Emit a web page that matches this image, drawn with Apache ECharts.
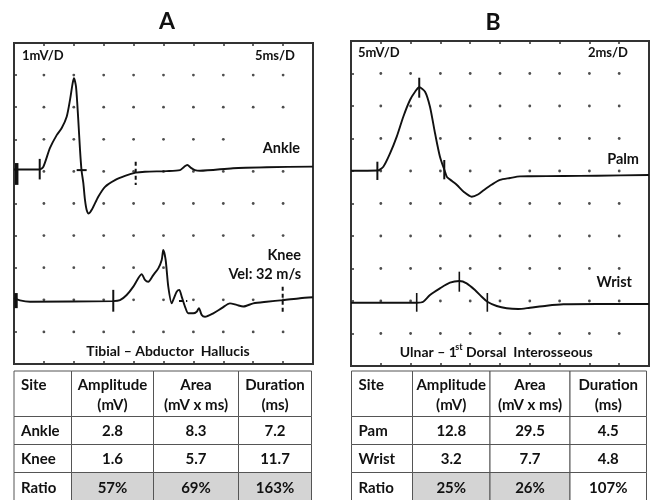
<!DOCTYPE html>
<html><head><meta charset="utf-8">
<script src="https://cdn.jsdelivr.net/npm/echarts@6/dist/echarts.min.js"></script>
<style>html,body{margin:0;padding:0;background:#fff}#c{width:654px;height:500px}</style>
</head><body><div id="c"></div>
<script>
// ---------- DATA ----------
// Panel A (Tibial – Abductor Hallucis), x in ms (5 ms/D), y in mV on the screen scale (1 mV/D)
const ankle = [[0,6.06],[4.30,6.06],[4.90,6.14],[6.02,6.73],[7.14,7.13],[7.98,7.35],[8.81,7.70],[9.36,8.22],[9.81,8.75],[10.03,8.90],[10.37,8.64],[10.75,7.60],[11.04,6.67],[11.29,6.04],[11.59,5.64],[11.87,5.11],[12.15,4.80],[12.50,4.69],[13.05,4.82],[14.09,5.21],[15.22,5.52],[16.89,5.73],[18.56,5.86],[20.35,5.96],[21.90,5.99],[25.53,6.01],[27.76,6.04],[28.43,6.14],[28.98,6.20],[29.60,6.11],[30.26,6.04],[31.10,6.02],[36.62,6.10],[42.25,6.13],[50,6.15]];
const knee = [[0,2.05],[1.00,1.98],[2.68,1.94],[16.60,1.96],[17.72,1.99],[18.84,2.15],[19.95,2.41],[20.78,2.67],[21.35,2.80],[21.90,2.62],[22.45,2.56],[23.29,2.77],[24.13,2.98],[24.70,3.24],[24.96,3.55],[25.36,3.24],[25.80,2.41],[26.37,1.89],[26.75,2.05],[27.20,2.25],[27.64,2.31],[28.04,2.10],[28.59,1.79],[29.14,1.58],[29.98,1.58],[30.55,1.63],[30.93,1.74],[31.38,1.53],[31.94,1.47],[33.32,1.58],[34.73,1.74],[36.12,1.89],[37.24,1.84],[38.34,1.79],[40.01,1.89],[42.25,1.94],[45.03,1.99],[47.82,2.05],[50,2.08]];
// Panel B (Ulnar – 1st Dorsal Interosseous), x in ms (2 ms/D), y in mV on the screen scale (5 mV/D)
const palm = [[0,30.05],[1.77,30.08],[2.17,30.66],[2.62,32.70],[3.07,35.28],[3.51,38.35],[3.96,40.92],[4.30,42.20],[4.58,42.88],[4.97,42.20],[5.30,39.89],[5.64,35.80],[5.97,32.20],[6.31,29.89],[6.44,29.08],[6.78,28.46],[7.11,27.85],[7.58,26.77],[8.10,26.05],[8.52,26.38],[8.93,27.08],[9.46,27.92],[10.00,28.62],[10.67,28.92],[11.34,29.18],[12.01,29.20],[14.25,29.23],[16.49,29.28],[20,29.38]];
const wrist = [[0,9.74],[4.41,9.74],[4.85,9.89],[5.30,10.92],[5.97,11.95],[6.64,12.82],[7.27,13.08],[7.76,12.72],[8.32,11.69],[8.77,10.66],[9.15,9.89],[9.78,9.23],[10.45,8.88],[11.23,8.77],[12.01,8.97],[13.13,9.28],[14.25,9.49],[16.49,9.54],[20,9.54]];
// markers [x1, y1, x2, y2]
const artifactsA = [[0.45,6.26,0.45,5.58],[0.33,2.21,0.33,1.74]];
const solidCursorsA = [[4.30,6.39,4.30,5.75],[10.48,6.04,12.15,6.04],[16.60,2.31,16.60,1.63]];
const dashCursorsA = [[20.35,6.30,20.35,5.58],[27.59,1.96,28.98,1.96],[44.93,2.41,44.93,1.63]];
const palmCursors = [[1.77,31.43,1.77,28.62],[4.58,44.35,4.58,41.28],[6.26,31.69,6.26,28.72]];
const wristCursors = [[4.41,11.23,4.41,8.35],[7.27,14.51,7.27,11.43],[9.15,11.23,9.15,8.35]];
// graticule ticks
const xTicksA = [5,10,15,20,25,30,35,40,45];
const yTicksA = [1,2,3,4,5,6,7,8,9];
const xTicksB = [2,4,6,8,10,12,14,16,18];
const yTicksB = [5,10,15,20,25,30,35,40,45];
// tables
const tableHeader = [['Site',''],['Amplitude','(mV)'],['Area','(mV x ms)'],['Duration','(ms)']];
const tableARows = [['Ankle','2.8','8.3','7.2'],['Knee','1.6','5.7','11.7'],['Ratio','57%','69%','163%']];
const tableBRows = [['Pam','12.8','29.5','4.5'],['Wrist','3.2','7.7','4.8'],['Ratio','25%','26%','107%']];
const shadedA = [false,true,true,true];
const shadedB = [false,true,true,false];

// ---------- CHART ----------
const FONT = 'Lato, "Open Sans", sans-serif';
const WEIGHT = 'bold';
const INK = '#111';
const chart = echarts.init(document.getElementById('c'), null, {renderer:'canvas'});
const mctx = document.createElement('canvas').getContext('2d');
function measure(t, font){ mctx.font = font; return mctx.measureText(t).width; }

function dots(xs, ys){ const out=[]; ys.forEach(y=>xs.forEach(x=>out.push([x,y]))); return out; }

function markerSeries(data, xi, yi, width, dash){
  return {
    type:'custom', xAxisIndex:xi, yAxisIndex:yi, data:data, silent:true, z:3,
    encode:{x:[0,2], y:[1,3]},
    renderItem:function(params, api){
      const p1 = api.coord([api.value(0), api.value(1)]);
      const p2 = api.coord([api.value(2), api.value(3)]);
      return {type:'line', shape:{x1:p1[0],y1:p1[1],x2:p2[0],y2:p2[1]},
        style:{stroke:INK, lineWidth:width, lineDash:dash||null}};
    }
  };
}
function traceSeries(data, xi, yi){
  return {type:'line', xAxisIndex:xi, yAxisIndex:yi, data:data, showSymbol:false, smooth:0.25, z:3,
    lineStyle:{color:INK, width:1.9}, silent:true};
}
function xAx(grid, max, interval, pos){
  return {type:'value', gridIndex:grid, min:0, max:max, interval:interval, position:pos,
    axisLine:{show:false}, axisLabel:{show:false}, splitLine:{show:false},
    axisTick:{show:true, inside:true, length:3, lineStyle:{color:'#333', width:1.5}}};
}
function yAx(grid, max, interval){
  return {type:'value', gridIndex:grid, min:0, max:max, interval:interval,
    axisLine:{show:false}, axisLabel:{show:false}, splitLine:{show:false},
    axisTick:{show:true, inside:true, length:3, lineStyle:{color:'#333', width:1.5}}};
}

// graphic: labels + tables
const graphics = [];
function fnt(size){ return WEIGHT+' '+size+'px '+FONT; }
function txt(text, x, y, size, align){
  graphics.push({type:'text', x:x, y:y, silent:true, z:10,
    style:{text:text, font:fnt(size), fill:INK, textAlign:align||'left', textVerticalAlign:'middle'}});
}
function whiteBox(x, y, w, h){
  graphics.push({type:'rect', silent:true, z:5, shape:{x:x, y:y, width:w, height:h}, style:{fill:'#fff'}});
}
txt('A', 167, 22, 23, 'center');
txt('B', 493, 23, 23, 'center');
txt('1mV/D', 22, 56, 13, 'left');
txt('5ms/D', 295, 56, 13, 'right');
whiteBox(246, 135, 64, 24);
txt('Ankle', 300, 148, 14.5, 'right');
whiteBox(187, 242, 123, 42);
txt('Knee', 301, 255, 14.5, 'right');
txt('Vel: 32 m/s', 301, 274, 14.5, 'right');
txt('Tibial – Abductor  Hallucis', 168, 351, 14, 'center');
txt('5mV/D', 358, 53, 13, 'left');
txt('2ms/D', 628, 53, 13, 'right');
txt('Palm', 639, 159, 14.5, 'right');
txt('Wrist', 632, 282, 14.5, 'right');
// "Ulnar – 1st Dorsal Interosseous" with superscript
(function(){
  const p1 = 'Ulnar – 1', p2 = 'st', p3 = ' Dorsal  Interosseous';
  const w1 = measure(p1, fnt(14)), w2 = measure(p2, fnt(9)), w3 = measure(p3, fnt(14));
  let x = 497 - (w1+w2+w3)/2;
  const y = 352;
  txt(p1, x, y, 14, 'left'); x += w1 - 1.5;
  txt(p2, x, y-5, 9, 'left'); x += w2;
  txt(p3, x, y, 14, 'left');
})();

function table(cols, rows, header, data, shaded){
  const FS = 15;
  for(let c=0;c<4;c++){
    graphics.push({type:'rect', silent:true, shape:{x:cols[c], y:rows[0], width:cols[c+1]-cols[c], height:rows[1]-rows[0]},
      style:{fill:'#fff', stroke:'#555', lineWidth:1}});
    const cx = c===0 ? cols[0]+7 : (cols[c]+cols[c+1])/2;
    const al = c===0 ? 'left' : 'center';
    txt(header[c][0], cx, rows[0]+14, FS, al);
    if(header[c][1]) txt(header[c][1], cx, rows[0]+34.5, FS, al);
  }
  for(let r=0;r<data.length;r++){
    for(let c=0;c<4;c++){
      const sh = r===data.length-1 && shaded[c];
      graphics.push({type:'rect', silent:true, shape:{x:cols[c], y:rows[r+1], width:cols[c+1]-cols[c], height:rows[r+2]-rows[r+1]},
        style:{fill: sh ? '#d4d4d4' : '#fff', stroke:'#555', lineWidth:1}});
      const cx = c===0 ? cols[0]+7 : (cols[c]+cols[c+1])/2;
      txt(data[r][c], cx, (rows[r+1]+rows[r+2])/2+1, FS, c===0?'left':'center');
    }
  }
}
table([14,71.5,153.5,238.5,311.5],[371,416.5,444.5,472.5,501], tableHeader, tableARows, shadedA);
table([351.5,412.5,490,570,646.5],[371,416.5,444.5,472.5,501], tableHeader, tableBRows, shadedB);

const option = {
  animation:false,
  backgroundColor:'#fff',
  grid:[
    {left:14, top:43, width:299, height:321, show:true, borderColor:'#333', borderWidth:2, backgroundColor:'transparent'},
    {left:351, top:41, width:298, height:325, show:true, borderColor:'#333', borderWidth:2, backgroundColor:'transparent'}
  ],
  xAxis:[ xAx(0,50,5,'bottom'), xAx(0,50,5,'top'), xAx(1,20,2,'bottom'), xAx(1,20,2,'top') ],
  yAxis:[ yAx(0,10,1), yAx(1,50,5) ],
  series:[
    {type:'scatter', xAxisIndex:0, yAxisIndex:0, data:dots(xTicksA,yTicksA), symbolSize:2.8, itemStyle:{color:'#222'}, silent:true, z:1},
    {type:'scatter', xAxisIndex:2, yAxisIndex:1, data:dots(xTicksB,yTicksB), symbolSize:2.8, itemStyle:{color:'#222'}, silent:true, z:1},
    traceSeries(ankle,0,0),
    traceSeries(knee,0,0),
    traceSeries(palm,2,1),
    traceSeries(wrist,2,1),
    markerSeries(artifactsA,0,0,3.5),
    markerSeries(solidCursorsA,0,0,2),
    markerSeries(dashCursorsA,0,0,2,[4,3]),
    markerSeries(palmCursors,2,1,2),
    markerSeries(wristCursors,2,1,1.6)
  ],
  graphic: graphics
};
chart.setOption(option);
</script>
</body></html>
